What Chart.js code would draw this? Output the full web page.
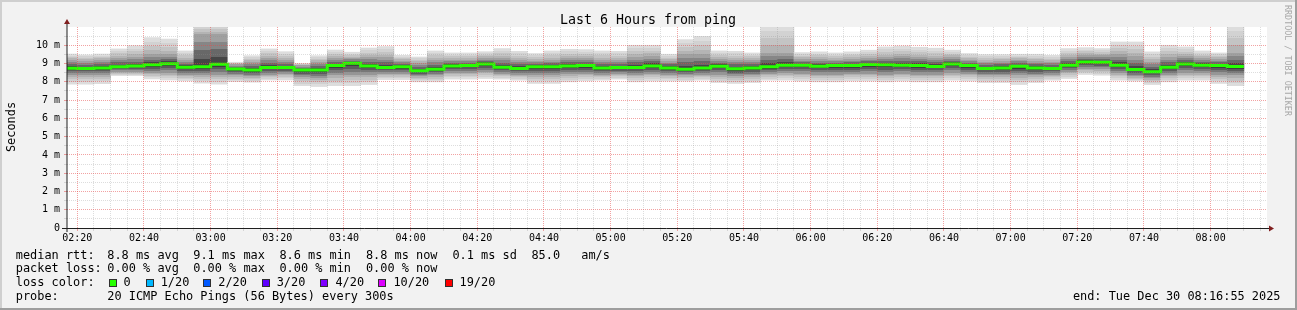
<!DOCTYPE html>
<html>
<head>
<meta charset="utf-8">
<title>Last 6 Hours from ping</title>
<script src="https://cdn.jsdelivr.net/npm/chart.js@4.4.1/dist/chart.umd.min.js"></script>
<style>
  html, body { margin: 0; padding: 0; background: #f2f2f2; }
  #wrap { width: 1297px; height: 310px; }
</style>
</head>
<body>
<div id="wrap"><canvas id="pingChart" width="1297" height="310"></canvas></div>
<script>
// ---- data ----
const windowStart = '02:16:55';
const windowEnd = '08:16:55';
const stepMinutes = 5; // probe every 300s

// end time of each 5 minute slot
const slotEnds = [
  '02:20', '02:25', '02:30', '02:35', '02:40', '02:45', '02:50', '02:55',
  '03:00', '03:05', '03:10', '03:15', '03:20', '03:25', '03:30', '03:35', '03:40', '03:45', '03:50', '03:55',
  '04:00', '04:05', '04:10', '04:15', '04:20', '04:25', '04:30', '04:35', '04:40', '04:45', '04:50', '04:55',
  '05:00', '05:05', '05:10', '05:15', '05:20', '05:25', '05:30', '05:35', '05:40', '05:45', '05:50', '05:55',
  '06:00', '06:05', '06:10', '06:15', '06:20', '06:25', '06:30', '06:35', '06:40', '06:45', '06:50', '06:55',
  '07:00', '07:05', '07:10', '07:15', '07:20', '07:25', '07:30', '07:35', '07:40', '07:45', '07:50', '07:55',
  '08:00', '08:05', '08:10'
];

// median rtt (ms)
const medianRtt = [
  8.74, 8.73, 8.76, 8.83, 8.87, 8.94, 8.99, 8.80, 8.83, 8.96,
  8.70, 8.65, 8.78, 8.78, 8.65, 8.65, 8.89, 9.01, 8.86, 8.79,
  8.82, 8.60, 8.69, 8.87, 8.89, 8.98, 8.80, 8.73, 8.82, 8.82,
  8.87, 8.89, 8.76, 8.78, 8.78, 8.87, 8.76, 8.69, 8.76, 8.85,
  8.71, 8.76, 8.82, 8.91, 8.91, 8.85, 8.89, 8.89, 8.95, 8.93,
  8.91, 8.89, 8.84, 8.98, 8.89, 8.73, 8.76, 8.85, 8.75, 8.73,
  8.91, 9.09, 9.07, 8.91, 8.67, 8.55, 8.80, 8.98, 8.91, 8.89,
  8.84
];

// smoke: slowest ping of the slot (ms)
const smokeMax = [
  9.52, 9.47, 9.52, 9.80, 9.98, 10.42, 10.34, 9.69, 11.2, 11.2,
  9.07, 9.43, 9.80, 9.65, 9.01, 9.43, 9.74, 9.62, 9.85, 9.93,
  9.45, 9.36, 9.69, 9.58, 9.58, 9.65, 9.82, 9.67, 9.55, 9.69,
  9.78, 9.76, 9.69, 9.67, 10.0, 10.0, 9.51, 10.31, 10.49, 9.69,
  9.67, 9.58, 11.2, 11.2, 9.60, 9.64, 9.58, 9.64, 9.73, 9.91,
  9.96, 9.89, 9.84, 9.73, 9.55, 9.49, 9.49, 9.51, 9.51, 9.45,
  9.82, 9.87, 9.82, 10.18, 10.18, 9.64, 10.0, 9.91, 9.69, 9.58,
  11.2
];

// smoke: upper edge of the dense core (ms)
const smokeHigh = [
  9.20, 9.15, 9.20, 9.30, 9.35, 9.50, 9.50, 9.20, 10.6, 10.6,
  8.95, 9.10, 9.30, 9.20, 8.90, 9.10, 9.30, 9.30, 9.35, 9.35,
  9.15, 9.05, 9.20, 9.20, 9.20, 9.30, 9.30, 9.20, 9.15, 9.20,
  9.30, 9.30, 9.20, 9.20, 9.35, 9.40, 9.15, 9.50, 9.50, 9.25,
  9.20, 9.20, 9.60, 9.60, 9.25, 9.25, 9.20, 9.25, 9.30, 9.35,
  9.40, 9.35, 9.30, 9.35, 9.20, 9.10, 9.15, 9.20, 9.15, 9.10,
  9.35, 9.45, 9.45, 9.50, 9.40, 9.10, 9.35, 9.40, 9.30, 9.25,
  9.60
];

// smoke: lower edge of the dense core (ms)
const smokeLow = [
  8.40, 8.40, 8.40, 8.55, 8.55, 8.50, 8.50, 8.40, 8.35, 8.40,
  8.35, 8.30, 8.40, 8.45, 8.25, 8.20, 8.35, 8.40, 8.40, 8.45,
  8.45, 8.30, 8.35, 8.50, 8.50, 8.55, 8.45, 8.40, 8.35, 8.35,
  8.45, 8.45, 8.40, 8.45, 8.40, 8.45, 8.40, 8.35, 8.40, 8.40,
  8.30, 8.35, 8.45, 8.50, 8.45, 8.40, 8.40, 8.45, 8.45, 8.40,
  8.45, 8.40, 8.40, 8.50, 8.45, 8.35, 8.35, 8.35, 8.35, 8.40,
  8.55, 8.70, 8.70, 8.50, 8.30, 8.20, 8.40, 8.50, 8.50, 8.40,
  8.35
];

// smoke: fastest ping of the slot (ms)
const smokeMin = [
  7.87, 7.87, 7.90, 8.34, 8.34, 8.16, 8.10, 8.05, 7.92, 7.87,
  8.01, 7.98, 8.10, 8.10, 7.79, 7.74, 7.79, 7.79, 7.85, 8.12,
  8.12, 8.00, 8.00, 8.15, 8.15, 8.18, 8.15, 8.09, 7.91, 7.91,
  8.00, 8.05, 8.09, 8.15, 8.00, 8.04, 8.04, 8.04, 8.09, 7.96,
  7.91, 7.96, 8.09, 8.09, 8.04, 8.00, 8.00, 8.04, 8.04, 8.00,
  8.04, 8.00, 8.00, 8.09, 8.04, 7.96, 7.96, 7.85, 7.96, 8.09,
  8.18, 8.40, 8.36, 8.09, 8.04, 7.85, 8.00, 8.09, 8.09, 7.91,
  7.79
];

const xTickLabels = [
  '02:20', '02:40', '03:00', '03:20', '03:40', '04:00', '04:20', '04:40', '05:00',
  '05:20', '05:40', '06:00', '06:20', '06:40', '07:00', '07:20', '07:40', '08:00'
];
const yTickLabels = ['0', '1 m', '2 m', '3 m', '4 m', '5 m', '6 m', '7 m', '8 m', '9 m', '10 m'];
const yTop = 11;

// legend texts
const rttStats = ['8.8 ms avg', '9.1 ms max', '8.6 ms min', '8.8 ms now', '0.1 ms sd', '85.0', 'am/s'];
const lossStats = ['0.00 % avg', '0.00 % max', '0.00 % min', '0.00 % now'];
const lossLabels = ['0', '1/20', '2/20', '3/20', '4/20', '10/20', '19/20'];
const lossColors = ['#26ff00', '#00b8ff', '#0059ff', '#5e00ff', '#7e00ff', '#dd00ff', '#ff0000'];
const probeText = '20 ICMP Echo Pings (56 Bytes) every 300s';
const endText = 'end: Tue Dec 30 08:16:55 2025';

// ---- helpers ----
function toMin(s) {
  const p = s.split(':').map(Number);
  return p[0] * 60 + p[1] + (p[2] || 0) / 60;
}

const MONO = '"DejaVu Sans Mono", "Liberation Mono", monospace';
const GRID_MINOR = 'rgba(143,143,143,0.3)';
const GRID_MAJOR = 'rgba(230,70,70,0.5)';

const xMin = toMin(windowStart);
const xMax = toMin(windowEnd);
const ends = slotEnds.map(toMin);
const majorX = new Map(xTickLabels.map(s => [Math.round(toMin(s)), s]));

const xGridTicks = [];
for (let v = Math.ceil(xMin / stepMinutes) * stepMinutes; v <= xMax; v += stepMinutes) {
  xGridTicks.push({ value: v });
}

function addSteps(g, a, b, greys) {
  const n = greys.length;
  greys.forEach((v, k) => {
    const col = 'rgb(' + v + ',' + v + ',' + v + ')';
    g.addColorStop(a + (b - a) * k / n, col);
    g.addColorStop(a + (b - a) * (k + 1) / n, col);
  });
}

// grey bands getting darker toward the median, like smokeping
function smokeFill(c) {
  const chart = c.chart;
  const ys = chart.scales.y;
  const i = c.dataIndex;
  if (!ys || !chart.chartArea || i === undefined) return '#cccccc';
  const pTop = ys.getPixelForValue(smokeMax[i]);
  const pBot = ys.getPixelForValue(smokeMin[i]);
  const span = pBot - pTop;
  const f = v => Math.min(1, Math.max(0, (ys.getPixelForValue(v) - pTop) / span));
  const g = chart.ctx.createLinearGradient(0, pTop, 0, pBot);
  addSteps(g, 0, f(smokeHigh[i]), [221, 210, 196, 180]);
  addSteps(g, f(smokeHigh[i]), f(medianRtt[i]), [160, 134, 104, 70]);
  addSteps(g, f(medianRtt[i]), f(smokeLow[i]), [62, 92, 120, 150]);
  addSteps(g, f(smokeLow[i]), 1, [176, 194, 208, 221]);
  return g;
}

function majorTick(c, isMajor) {
  return c && c.tick && isMajor(c.tick.value);
}

// ---- frame, axes and text around the plot ----
const rrdDecor = {
  id: 'rrdDecor',
  beforeDraw(chart) {
    const ctx = chart.ctx, a = chart.chartArea;
    const W = chart.width, H = chart.height;
    ctx.save();
    ctx.fillStyle = '#f2f2f2';
    ctx.fillRect(0, 0, W, H);
    ctx.fillStyle = '#cfcfcf';
    ctx.fillRect(0, 0, W, 2);
    ctx.fillRect(0, 0, 2, H);
    ctx.fillStyle = '#9e9e9e';
    ctx.fillRect(0, H - 2, W, 2);
    ctx.fillRect(W - 2, 0, 2, H);
    ctx.fillStyle = '#ffffff';
    ctx.fillRect(a.left, a.top, a.right - a.left, a.bottom - a.top);
    ctx.restore();
  },
  afterDraw(chart) {
    const ctx = chart.ctx, a = chart.chartArea;
    ctx.save();
    // axes
    ctx.strokeStyle = '#1f1f1f';
    ctx.lineWidth = 1;
    ctx.beginPath();
    ctx.moveTo(a.left, a.bottom + 4);
    ctx.lineTo(a.left, a.top - 5);
    ctx.stroke();
    ctx.beginPath();
    ctx.moveTo(a.left - 5, a.bottom + 0.5);
    ctx.lineTo(a.right + 4, a.bottom + 0.5);
    ctx.stroke();
    // arrows
    ctx.fillStyle = '#801f1f';
    ctx.beginPath();
    ctx.moveTo(a.left, a.top - 8);
    ctx.lineTo(a.left - 3, a.top - 3);
    ctx.lineTo(a.left + 3, a.top - 3);
    ctx.closePath();
    ctx.fill();
    ctx.beginPath();
    ctx.moveTo(a.right + 7, a.bottom + 0.5);
    ctx.lineTo(a.right + 2, a.bottom - 2.5);
    ctx.lineTo(a.right + 2, a.bottom + 3.5);
    ctx.closePath();
    ctx.fill();

    // title
    ctx.fillStyle = '#000';
    ctx.textAlign = 'center';
    ctx.textBaseline = 'alphabetic';
    ctx.font = '13.3px ' + MONO;
    ctx.fillText('Last 6 Hours from ping', 648, 24);

    // vertical label
    ctx.font = '11.9px ' + MONO;
    ctx.save();
    ctx.translate(15, 127);
    ctx.rotate(-Math.PI / 2);
    ctx.fillText('Seconds', 0, 0);
    ctx.restore();

    // watermark
    ctx.save();
    ctx.fillStyle = '#a8a8a8';
    ctx.font = '8.4px ' + MONO;
    ctx.translate(1284.5, 5);
    ctx.rotate(Math.PI / 2);
    ctx.textAlign = 'left';
    ctx.fillText('RRDTOOL / TOBI OETIKER', 0, 0);
    ctx.restore();

    // legend
    ctx.textAlign = 'left';
    ctx.font = '11.9px ' + MONO;
    const cols = [107.3, 193.3, 279.4, 365.9, 452.4, 531.4, 581.3];
    ctx.fillText('median rtt:', 15.8, 258.5);
    rttStats.forEach((t, k) => ctx.fillText(t, cols[k], 258.5));
    ctx.fillText('packet loss:', 15.8, 272.2);
    lossStats.forEach((t, k) => ctx.fillText(t, cols[k], 272.2));
    ctx.fillText('loss color:', 15.8, 286.2);
    const sq = [108.5, 145.7, 203.3, 261.7, 320.4, 378.4, 444.5];
    lossLabels.forEach((t, k) => {
      ctx.fillStyle = lossColors[k];
      ctx.fillRect(Math.round(sq[k]), 279, 8, 8);
      ctx.strokeStyle = '#303030';
      ctx.strokeRect(Math.round(sq[k]) + 0.5, 279.5, 7, 7);
      ctx.fillStyle = '#000';
      ctx.fillText(t, sq[k] + 15, 286.2);
    });
    ctx.fillText('probe:', 15.8, 300);
    ctx.fillText(probeText, 107.3, 300);
    ctx.textAlign = 'right';
    ctx.fillText(endText, 1280.5, 300);
    ctx.restore();
  }
};

// ---- chart ----
const medianPoints = [{ x: xMin, y: medianRtt[0] }].concat(ends.map((t, i) => ({ x: t, y: medianRtt[i] })));
const smokeBars = ends.map((t, i) => ({ x: t - stepMinutes / 2, y: [smokeMin[i], smokeMax[i]] }));

new Chart(document.getElementById('pingChart'), {
  type: 'bar',
  data: {
    datasets: [
      {
        type: 'line',
        label: 'median rtt',
        data: medianPoints,
        stepped: 'after',
        borderColor: '#26ff00',
        borderWidth: 3,
        pointRadius: 0,
        order: 0
      },
      {
        type: 'bar',
        label: 'smoke',
        data: smokeBars,
        backgroundColor: smokeFill,
        borderWidth: 0,
        barPercentage: 1,
        categoryPercentage: 1,
        order: 1
      }
    ]
  },
  options: {
    responsive: false,
    animation: false,
    devicePixelRatio: 1,
    events: [],
    layout: { padding: { top: 27, right: 30, left: 0, bottom: 0 } },
    plugins: { legend: { display: false }, tooltip: { enabled: false }, title: { display: false } },
    scales: {
      x: {
        type: 'linear',
        min: xMin,
        max: xMax,
        offset: false,
        afterFit: s => { s.height = 82; },
        afterBuildTicks: s => { s.ticks = xGridTicks.map(t => ({ value: t.value })); },
        grid: {
          offset: false,
          z: 1,
          lineWidth: 1,
          tickLength: 3,
          color: c => (majorTick(c, v => majorX.has(Math.round(v))) ? GRID_MAJOR : GRID_MINOR)
        },
        border: { display: false, dash: [1, 1] },
        ticks: {
          autoSkip: false,
          maxRotation: 0,
          padding: 1,
          color: '#000',
          font: { family: MONO, size: 10 },
          callback: v => majorX.get(Math.round(v)) || ''
        }
      },
      y: {
        min: 0,
        max: yTop,
        afterFit: s => { s.width = 67; },
        grid: {
          z: 1,
          lineWidth: 1,
          tickLength: 3,
          color: c => {
            const v = c && c.tick ? c.tick.value : 0;
            if (v <= 0 || v >= yTop) return 'rgba(0,0,0,0)';
            return Math.abs(v - Math.round(v)) < 1e-6 ? GRID_MAJOR : GRID_MINOR;
          }
        },
        border: { display: false, dash: [1, 1] },
        ticks: {
          stepSize: 0.5,
          autoSkip: false,
          padding: 4,
          color: '#000',
          font: { family: MONO, size: 10 },
          callback: v => (Number.isInteger(v) && v < yTickLabels.length ? yTickLabels[v] : '')
        }
      }
    }
  },
  plugins: [rrdDecor]
});
</script>
</body>
</html>
